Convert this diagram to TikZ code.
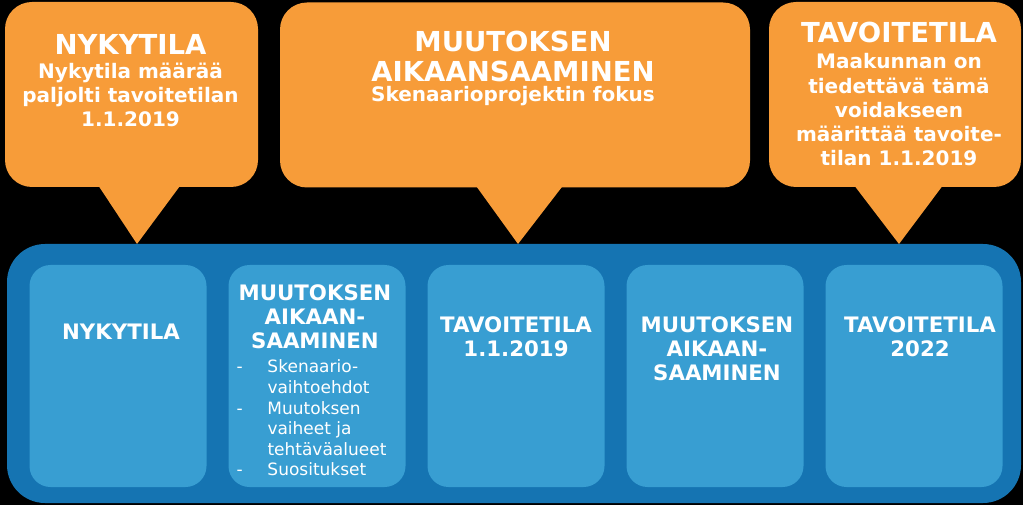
\documentclass[tikz,border=0pt]{standalone}
\usepackage{fontspec}
\setmainfont{DejaVu Sans}
\usepackage{xcolor}
\usepackage{tikz}
\usetikzlibrary{positioning}
\definecolor{callorange}{RGB}{247,156,57}
\definecolor{banddark}{RGB}{21,116,178}
\definecolor{boxlight}{RGB}{56,158,210}
\newcommand{\calltitle}{\fontsize{27.5}{29}\selectfont\bfseries}

\begin{document}
\begin{tikzpicture}[x=1pt, y=-1pt, node distance=199pt]
	\tikzstyle{callout}=[fill=callorange, rounded corners=27pt, inner sep=0pt, minimum height=185pt]
	\tikzstyle{calltext}=[text=white, align=center, anchor=base, inner sep=0pt, font=\fontsize{20}{24.2}\selectfont\bfseries]
	\tikzstyle{stage}=[fill=boxlight, rounded corners=21pt, minimum width=177pt, minimum height=222pt, inner sep=0pt]
	\tikzstyle{stagetext}=[text=white, align=center, anchor=base, inner sep=0pt, font=\fontsize{21.3}{24}\selectfont\bfseries]

	\fill[black] (0,0) rectangle (1023,505);
	\useasboundingbox (0,0) rectangle (1023,505);

	% callouts on top
	\node[callout, minimum width=253pt] (now) at (131.5,94.5) {};
	\node[callout, minimum width=470pt] (change) at (515,95) {};
	\node[callout, minimum width=252pt] (goal) at (895,94.5) {};

	\coordinate (now-tip) at (137,244);
	\coordinate (change-tip) at (518,244);
	\coordinate (goal-tip) at (899,244);
	\fill[callorange] ([xshift=-36pt,yshift=6pt]now.south) -- (now-tip) -- ([xshift=52pt,yshift=6pt]now.south) -- cycle;
	\fill[callorange] ([xshift=-42pt,yshift=6pt]change.south) -- (change-tip) -- ([xshift=51pt,yshift=6pt]change.south) -- cycle;
	\fill[callorange] ([xshift=-44pt,yshift=6pt]goal.south) -- (goal-tip) -- ([xshift=51pt,yshift=6pt]goal.south) -- cycle;

	% base = last line
	\node[calltext] (now-text) at ([xshift=-1pt,yshift=-125pt]now.north)
		{{\calltitle NYKYTILA}\\Nykytila määrää\\paljolti tavoitetilan\\1.1.2019};
	\node[calltext] (change-text) at ([xshift=-2pt,yshift=-99pt]change.north)
		{{\calltitle MUUTOKSEN}\\[5pt]{\calltitle AIKAANSAAMINEN}\\[-4pt]Skenaarioprojektin fokus};
	\node[calltext] (goal-text) at ([xshift=4pt,yshift=-164pt]goal.north)
		{{\calltitle TAVOITETILA}\\[2pt]Maakunnan on\\tiedettävä tämä\\voidakseen\\määrittää tavoite-\\tilan 1.1.2019};

	% band with the stages
	\node[fill=banddark, rounded corners=38pt, minimum width=1014pt, minimum height=259pt, inner sep=0pt] (band) at (514,373.5) {};

	\node[stage] (s-now) at (118,376) {};
	\node[stage, right of=s-now] (s-change) {};
	\node[stage, right of=s-change] (s-goal) {};
	\node[stage, right of=s-goal] (s-change2) {};
	\node[stage, right of=s-change2] (s-goal2) {};

	\node[stagetext] (s-now-text) at ([xshift=3pt,yshift=-75pt]s-now.north) {NYKYTILA};
	\node[stagetext] (s-change-text) at ([xshift=-2pt,yshift=-84pt]s-change.north) {MUUTOKSEN\\AIKAAN-\\SAAMINEN};
	\node[text=white, anchor=base west, inner sep=0pt, font=\fontsize{17}{20.6}\selectfont] (s-change-list) at ([xshift=8pt,yshift=-108pt]s-change.north west)
		{\begin{tabular}[t]{@{}p{31pt}@{}l@{}}
			- & Skenaario-\\
			  & vaihtoehdot\\
			- & Muutoksen\\
			  & vaiheet ja\\
			  & tehtäväalueet\\
			- & Suositukset
		\end{tabular}};
	\node[stagetext] (s-goal-text) at ([yshift=-92pt]s-goal.north) {TAVOITETILA\\1.1.2019};
	\node[stagetext] (s-change2-text) at ([xshift=2pt,yshift=-116pt]s-change2.north) {MUUTOKSEN\\AIKAAN-\\SAAMINEN};
	\node[stagetext] (s-goal2-text) at ([xshift=6pt,yshift=-92pt]s-goal2.north) {TAVOITETILA\\2022};
\end{tikzpicture}
\end{document}
